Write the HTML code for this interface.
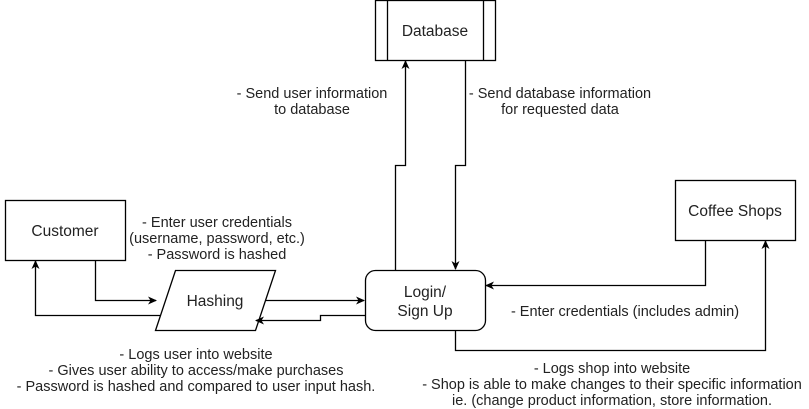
<!DOCTYPE html>
<html><head><style>
body{margin:0;background:#fff}
svg{display:block;font-family:"Liberation Sans",sans-serif}
text{fill:#222}
</style></head><body>
<svg width="809" height="409" viewBox="0 0 809 409">
<defs><marker id="a" markerWidth="10" markerHeight="10" refX="8" refY="5" orient="auto" markerUnits="userSpaceOnUse"><path d="M0,1 L9,5 L0,9 L2.5,5 Z" fill="#000"/></marker></defs>
<g fill="#fff" stroke="#000" stroke-width="1.3">
<rect x="375.5" y="0.5" width="120" height="60"/>
<line x1="387.5" y1="0.5" x2="387.5" y2="60.5"/>
<line x1="483.5" y1="0.5" x2="483.5" y2="60.5"/>
<rect x="5.5" y="200.5" width="120" height="60"/>
<polygon points="175.5,270.5 275.5,270.5 255.5,330.5 155.5,330.5"/>
<rect x="365.5" y="270.5" width="120" height="60" rx="10"/>
<rect x="675.5" y="180.5" width="120" height="60"/>
</g>
<g fill="none" stroke="#000" stroke-width="1.3" marker-end="url(#a)">
<polyline points="95.5,260.5 95.5,300.5 156,300.5"/>
<polyline points="160,315.5 35.5,315.5 35.5,261"/>
<polyline points="265,300.5 364,300.5"/>
<polyline points="365.5,315.5 320.5,315.5 320.5,320.5 256,320.5"/>
<polyline points="395.5,270.5 395.5,165.5 405.5,165.5 405.5,61"/>
<polyline points="465.5,60.5 465.5,165.5 455.5,165.5 455.5,269"/>
<polyline points="705.5,240.5 705.5,285.5 486,285.5"/>
<polyline points="455.5,330.5 455.5,350.5 765.5,350.5 765.5,241"/>
</g>
<g font-size="15.5" text-anchor="middle">
<text x="435" y="36">Database</text>
<text x="65" y="236">Customer</text>
<text x="215" y="306">Hashing</text>
<text x="425" y="297">Login/</text>
<text x="425" y="316">Sign Up</text>
<text x="735" y="216">Coffee Shops</text>
</g>
<g font-size="14.5" text-anchor="middle">
<text x="312" y="98">- Send user information</text>
<text x="312" y="114">to database</text>
<text x="560" y="98">- Send database information</text>
<text x="560" y="114">for requested data</text>
<text x="217" y="227">- Enter user credentials</text>
<text x="217" y="243">(username, password, etc.)</text>
<text x="217" y="259">- Password is hashed</text>
<text x="625" y="316">- Enter credentials (includes admin)</text>
<text x="196" y="359">- Logs user into website</text>
<text x="196" y="375">- Gives user ability to access/make purchases</text>
<text x="196" y="391">- Password is hashed and compared to user input hash.</text>
<text x="612" y="373">- Logs shop into website</text>
<text x="612" y="389">- Shop is able to make changes to their specific information</text>
<text x="612" y="405">ie. (change product information, store information.</text>
</g>
</svg>
</body></html>
